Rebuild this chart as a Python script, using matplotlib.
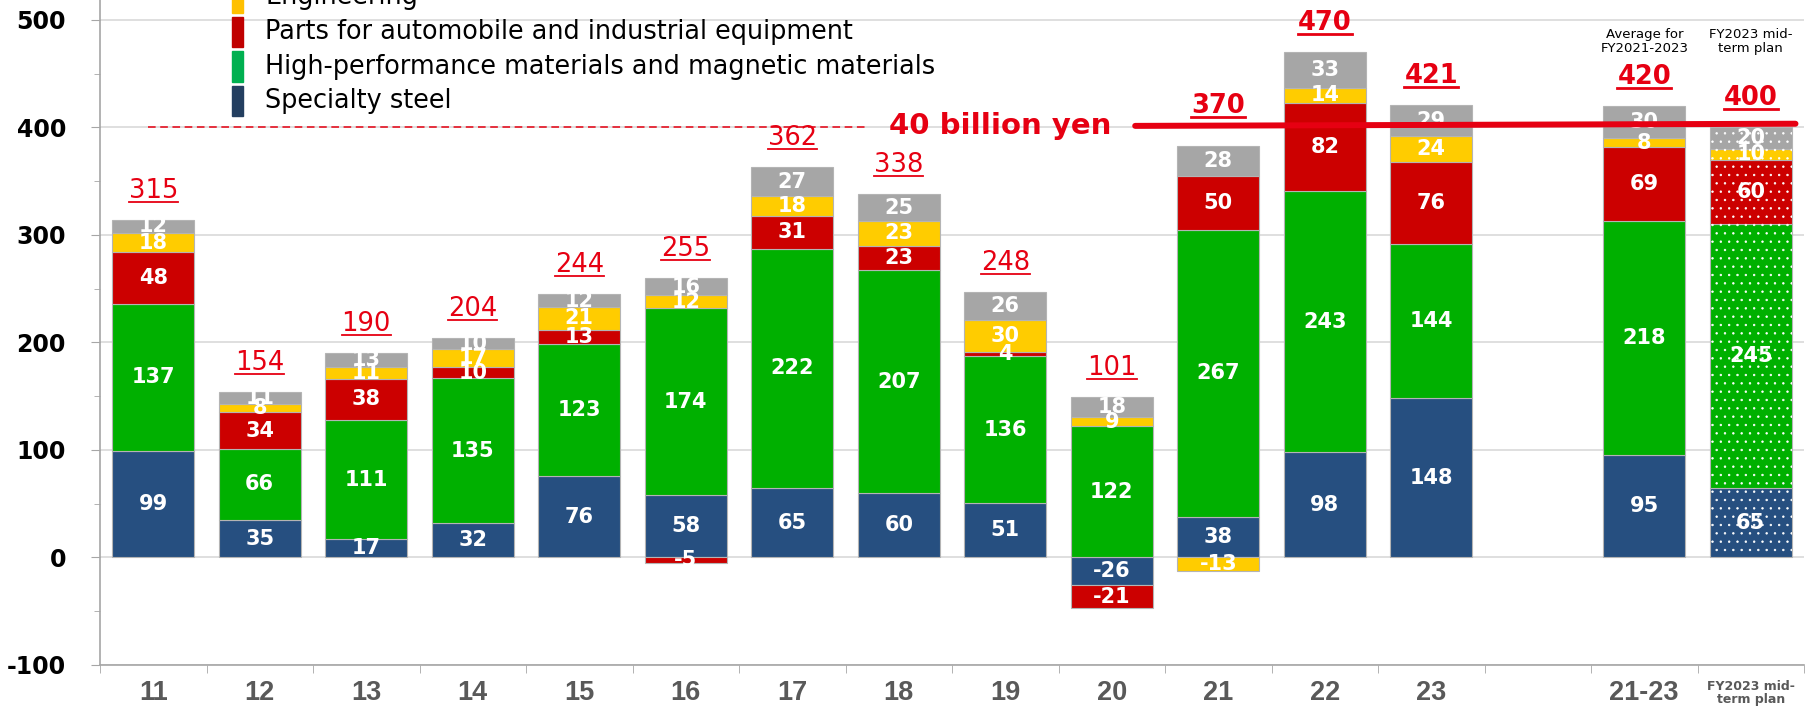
import numpy as np
import matplotlib.pyplot as plt
from matplotlib import font_manager
from matplotlib.lines import Line2D
from matplotlib.patches import Rectangle

# --- data (100 million yen) ---
categories = ['11', '12', '13', '14', '15', '16', '17', '18', '19', '20',
              '21', '22', '23', '21-23', 'FY2023 mid-\nterm plan']
specialty_steel = [99, 35, 17, 32, 76, 58, 65, 60, 51, -26, 38, 98, 148, 95, 65]
high_performance = [137, 66, 111, 135, 123, 174, 222, 207, 136, 122, 267, 243, 144, 218, 245]
parts = [48, 34, 38, 10, 13, -5, 31, 23, 4, -21, 50, 82, 76, 69, 60]
engineering = [18, 8, 11, 17, 21, 12, 18, 23, 30, 9, -13, 14, 24, 8, 10]
others = [12, 11, 13, 10, 12, 16, 27, 25, 26, 18, 28, 33, 29, 30, 20]
totals = [315, 154, 190, 204, 244, 255, 362, 338, 248, 101, 370, 470, 421, 420, 400]
target = 400

legend_names = ['Engineering', 'Parts for automobile and industrial equipment',
                'High-performance materials and magnetic materials', 'Specialty steel']

# --- styling ---
W, H = 1820, 715
RED = '#E60012'
series = [
    (specialty_steel, '#264F80'),
    (high_performance, '#00B000'),
    (parts, '#CC0000'),
    (engineering, '#FFCC00'),
    (others, '#A6A6A6'),
]
legend_colors = ['#FFC000', '#C00000', '#00B050', '#243F60']

plt.rcParams['axes.unicode_minus'] = False
plt.rcParams['hatch.linewidth'] = 0.5

available = {f.name for f in font_manager.fontManager.ttflist}
if 'Liberation Sans Narrow' in available:
    xfont, xsize = 'Liberation Sans Narrow', 21
else:
    xfont, xsize = 'Liberation Sans', 19.5

# slot 13 is left empty between the years and the averages
x = np.array(list(range(13)) + [14, 15])

fig = plt.figure(figsize=(W / 100, H / 100), dpi=100)
ax = fig.add_axes([100 / W, 50 / H, 1704 / W, 665 / H])
ax.set_xlim(-0.5, 15.5)
ax.set_ylim(-100, 518.6)

pos_base = np.zeros(len(x))
neg_base = np.zeros(len(x))
for values, color in series:
    v = np.array(values, dtype=float)
    bottom = np.where(v >= 0, pos_base, neg_base)
    ax.bar(x, v, bottom=bottom, width=0.77, color=color,
           edgecolor='#B4B4B4', linewidth=0.8, zorder=2)
    # dotted pattern for the plan bar
    ax.bar(x[-1], v[-1], bottom=bottom[-1], width=0.77, fill=False,
           hatch='..', edgecolor='white', linewidth=0, zorder=3)
    for xi, b, val in zip(x, bottom, v):
        ax.text(xi, b + val / 2, f'{int(val)}', ha='center', va='center',
                color='white', fontsize=15, fontweight='bold', zorder=4)
    pos_base = np.where(v >= 0, pos_base + v, pos_base)
    neg_base = np.where(v < 0, neg_base + v, neg_base)

# totals above the bars, kept clear of the solid 40 billion yen line
total_texts = []
for i, (xi, top, tot) in enumerate(zip(x, pos_base, totals)):
    y = top + 27
    if xi >= 10 and abs(y - target) < 15:
        y = target + 20
    t = ax.text(xi, y, str(tot), ha='center', va='center', color=RED,
                fontsize=18.5, fontweight='bold' if i >= 10 else 'normal', zorder=5)
    total_texts.append((t, i >= 10))

ax.text(14, 480, 'Average for\nFY2021-2023', ha='center', va='center',
        fontsize=9.5, linespacing=1.05, color='black')
ax.text(15, 480, 'FY2023 mid-\nterm plan', ha='center', va='center',
        fontsize=9.5, linespacing=1.05, color='black')

# target line
ax.plot([-0.05, 6.7], [target, target], color=RED, lw=1.1,
        dashes=(5, 3), zorder=1)
ax.plot([9.22, 15.42], [target + 1.5, target + 3.5], color=RED, lw=4.3,
        solid_capstyle='round', zorder=6)
ax.text(7.95, target + 1, '40 billion yen', ha='center', va='center',
        color=RED, fontsize=21, fontweight='bold', zorder=6)

# axes
for side in ['top', 'right']:
    ax.spines[side].set_visible(False)
for side in ['left', 'bottom']:
    ax.spines[side].set_color('#A6A6A6')
    ax.spines[side].set_linewidth(1.2)

ax.set_yticks(np.arange(-100, 501, 100))
ax.set_yticks(np.arange(-50, 501, 100), minor=True)
ax.tick_params(axis='y', which='major', length=6.5, color='#A6A6A6',
               labelsize=17, pad=18)
ax.tick_params(axis='y', which='minor', length=4.3, color='#A6A6A6')
for lab in ax.get_yticklabels():
    lab.set_fontweight('bold')

ax.set_xticks(x)
ax.set_xticklabels(categories)
ax.set_xticks(np.arange(-0.5, 15.6, 1), minor=True)
ax.tick_params(axis='x', which='major', length=0, pad=11, labelcolor='#595959')
ax.tick_params(axis='x', which='minor', length=5.8, color='#A6A6A6')
for i, lab in enumerate(ax.get_xticklabels()):
    if i == len(categories) - 1:
        lab.set_fontsize(9)
        lab.set_fontweight('bold')
        lab.set_linespacing(1.0)
    else:
        lab.set_fontfamily(xfont)
        lab.set_fontsize(xsize)
        lab.set_fontweight('bold')

ax.yaxis.grid(True, which='major', color='#D9D9D9', lw=1.2, zorder=0)
ax.set_axisbelow(True)

# legend drawn by hand (its top runs off the figure)
for k, (name, color) in enumerate(zip(legend_names, legend_colors)):
    cy = -2.5 + k * 34.5
    fig.add_artist(Rectangle((232 / W, 1 - (cy + 15) / H), 11 / W, 30 / H,
                             transform=fig.transFigure, color=color))
    fig.text(265 / W, 1 - cy / H, name, ha='left', va='center',
             fontsize=18.4, color='black')

# underline the totals
fig.canvas.draw()
renderer = fig.canvas.get_renderer()
for t, bold in total_texts:
    bb = t.get_window_extent(renderer)
    yy = (bb.y0 + 2) / H
    fig.add_artist(Line2D([bb.x0 / W, bb.x1 / W], [yy, yy],
                          transform=fig.transFigure, color=RED,
                          lw=2.0 if bold else 1.3))

fig.savefig('out.png', dpi=100)
